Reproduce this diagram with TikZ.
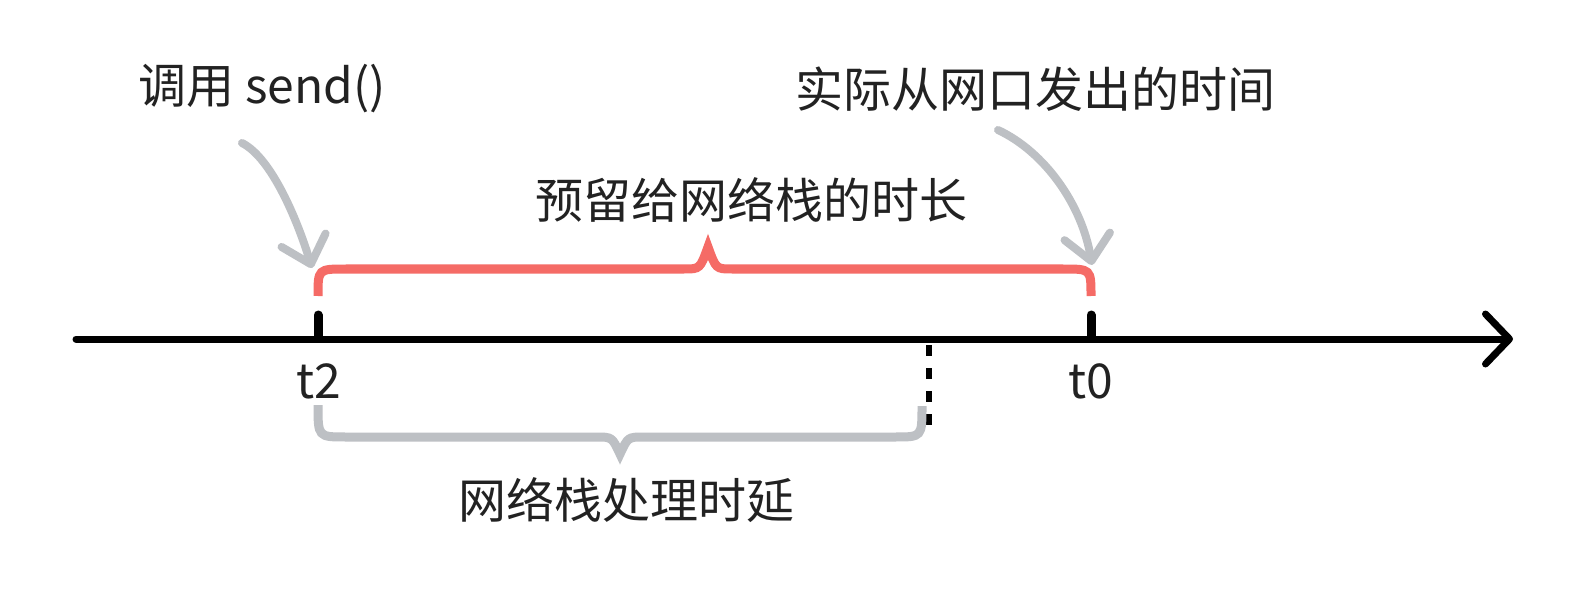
\documentclass[tikz,border=0pt]{standalone}
\usepackage{fontspec}
\setmainfont{Noto Sans CJK SC}
\usetikzlibrary{arrows.meta}
\definecolor{braceRed}{HTML}{F56B66}
\definecolor{softGray}{HTML}{BDC0C4}
\definecolor{txt}{HTML}{222222}
\begin{document}
\begin{tikzpicture}[x=1pt,y=-1pt,
  lbl/.style={font=\fontsize{48}{52}\selectfont, text=txt, inner sep=0pt, anchor=center},
  axisline/.style={line width=7pt, line cap=round, -{Straight Barb[length=24pt,width=50pt,round,line width=7pt]}},
  tickmark/.style={line width=9pt, line cap=round},
  callout/.style={draw=softGray, line width=8pt, line cap=round, -{Straight Barb[length=25pt,width=46pt,round]}},
  redbrace/.style={draw=braceRed, line width=9pt},
  graybrace/.style={draw=softGray, line width=9pt},
]
\useasboundingbox (0,0) rectangle (1596,604);
\fill[white] (0,0) rectangle (1596,604);

% axis
\coordinate (axL) at (76,339);
\coordinate (axR) at (1513,339);
\draw[axisline] (axL) -- (axR);

% ticks
\coordinate (t2top) at (318,315);
\coordinate (t2bot) at (318,337);
\coordinate (t0top) at (1091,315);
\coordinate (t0bot) at (1091,337);
\draw[tickmark] (t2top) -- (t2bot);
\draw[tickmark] (t0top) -- (t0bot);

% dashed tick
\coordinate (dtop) at (929,345);
\coordinate (dbot) at (929,431);
\draw[line width=6.5pt, dash pattern=on 11pt off 12pt] (dtop) -- (dbot);

% labels
\node[lbl] (call) at (262,89) {调用 send()};
\node[lbl] (sent) at (1035,89) {实际从网口发出的时间};
\node[lbl] (reserve) at (751,200) {预留给网络栈的时长};
\node[lbl] (delay) at (626,500) {网络栈处理时延};
\node[lbl] (t2) at (319,381) {t2};
\node[lbl] (t0) at (1091,381) {t0};

% red brace
\draw[redbrace] (318,296) .. controls (318,269) .. (346,269) -- (684,269)
  .. controls (700,269) .. (708,247) .. controls (716,269) .. (732,269)
  -- (1063,269) .. controls (1091,269) .. (1091,296);

% gray brace
\draw[graybrace] (318,405) .. controls (318,437) .. (346,437) -- (596,437)
  .. controls (612,437) .. (620,454) .. controls (628,437) .. (644,437)
  -- (895,437) .. controls (922,437) .. (922,406);

% callout arrows
\coordinate (a1s) at (242,143);
\coordinate (a1e) at (312,268);
\coordinate (a2s) at (998,130);
\coordinate (a2e) at (1092,265);
\draw[callout] (a1s) .. controls (272,158) and (298,222) .. (a1e);
\draw[callout] (a2s) .. controls (1045,152) and (1082,205) .. (a2e);
\end{tikzpicture}
\end{document}
